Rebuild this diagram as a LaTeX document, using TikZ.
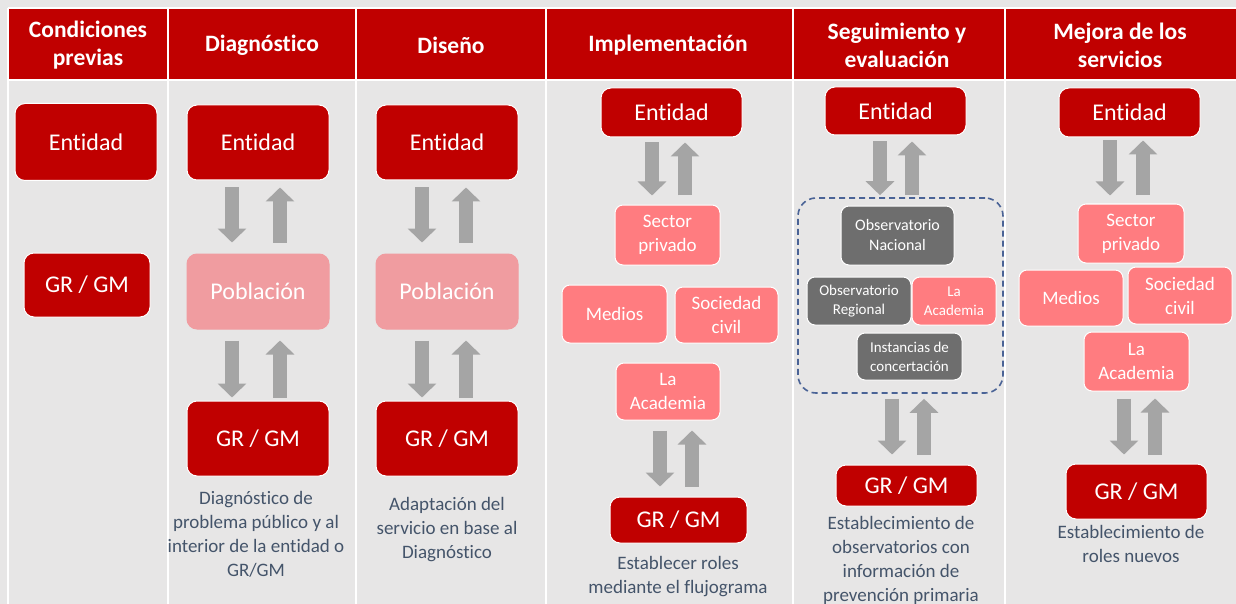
\documentclass[tikz,border=0pt]{standalone}
\usepackage{fontspec}
\setmainfont{Carlito}[Ligatures={NoCommon}]
\usetikzlibrary{arrows.meta}
\definecolor{hdr}{HTML}{C00000}
\definecolor{bgc}{HTML}{E7E6E6}
\definecolor{pob}{HTML}{F09CA0}
\definecolor{pinkb}{HTML}{FF7C80}
\definecolor{darkb}{HTML}{6E6E6E}
\definecolor{arr}{HTML}{A5A5A5}
\definecolor{txt}{HTML}{44546A}
\definecolor{dash}{HTML}{4A6396}
\tikzset{
  hdrtext/.style={text=white,align=center,font=\bfseries\fontsize{23.5}{28}\selectfont},
  basebox/.style={draw=white,line width=1pt,inner sep=0pt,align=center,text=white},
  redbox/.style={basebox,fill=hdr,rounded corners=10pt,font=\fontsize{24}{28}\selectfont},
  pobbox/.style={basebox,fill=pob,draw=pob,rounded corners=10pt,font=\fontsize{24}{28}\selectfont},
  pinkbox/.style={basebox,fill=pinkb,rounded corners=8pt,font=\fontsize{19}{24}\selectfont},
  darkbox/.style={basebox,fill=darkb,rounded corners=8pt,font=\fontsize{16}{20}\selectfont},
  smallfont/.style={font=\fontsize{15}{19}\selectfont},
  barrow/.style={draw=arr,line width=14pt,line cap=butt,-{Triangle[width=28pt,length=14pt]}},
  desc/.style={text=txt,align=center,font=\fontsize{19}{24}\selectfont},
  sep/.style={draw=white,line width=1.5pt},
  dashbox/.style={draw=dash,dash pattern=on 6pt off 4pt,line width=1.6pt,rounded corners=18pt,inner sep=0pt}
}
\begin{document}
\begin{tikzpicture}[x=1pt,y=-1pt]
\fill[bgc] (0,0) rectangle (1236,604);
\useasboundingbox (0,0) rectangle (1236,604);
% header
\fill[hdr] (8,8) rectangle (1236,80);
\foreach \xx in {8,168,356,546,793,1005}{\draw[sep] (\xx,8) -- (\xx,604);}
\draw[sep] (8,8) -- (1236,8);
\draw[sep] (8,80) -- (1236,80);
\node[hdrtext] (h1) at (88,45) {Condiciones\\previas};
\node[hdrtext] (h2) at (262,45) {Diagnóstico};
\node[hdrtext] (h3) at (451,45) {Diseño};
\node[hdrtext] (h4) at (668,45) {Implementación};
\node[hdrtext] (h5) at (897,45) {Seguimiento y\\evaluación};
\node[hdrtext] (h6) at (1120,45) {Mejora de los\\servicios};
% column 1
\node[redbox,minimum width=142pt,minimum height=77pt] (ent1) at (86,142) {Entidad};
\node[redbox,minimum width=126pt,minimum height=64pt] (gr1) at (87,285) {GR / GM};
% column 2
\node[redbox,minimum width=142pt,minimum height=75pt] (ent2) at (258,142.5) {Entidad};
\node[pobbox,minimum width=142pt,minimum height=75pt] (pob2) at (258,291.5) {Población};
\node[redbox,minimum width=142pt,minimum height=75pt] (gr2) at (258,438.5) {GR / GM};
\draw[barrow] ([xshift=-26pt,yshift=-7pt]ent2.south) -- ([xshift=-26pt,yshift=11pt]pob2.north);
\draw[barrow] ([xshift=22pt,yshift=11pt]pob2.north) -- ([xshift=22pt,yshift=-7pt]ent2.south);
\draw[barrow] ([xshift=-26pt,yshift=-11pt]pob2.south) -- ([xshift=-26pt,yshift=3pt]gr2.north);
\draw[barrow] ([xshift=22pt,yshift=3pt]gr2.north) -- ([xshift=22pt,yshift=-11pt]pob2.south);
\node[desc] (d2) at (256,534) {Diagnóstico de\\problema público y al\\interior de la entidad o\\GR/GM};
% column 3
\node[redbox,minimum width=142pt,minimum height=75pt] (ent3) at (447,142.5) {Entidad};
\node[pobbox,minimum width=142pt,minimum height=75pt] (pob3) at (447,291.5) {Población};
\node[redbox,minimum width=142pt,minimum height=75pt] (gr3) at (447,438.5) {GR / GM};
\draw[barrow] ([xshift=-25pt,yshift=-7pt]ent3.south) -- ([xshift=-25pt,yshift=11pt]pob3.north);
\draw[barrow] ([xshift=19pt,yshift=11pt]pob3.north) -- ([xshift=19pt,yshift=-7pt]ent3.south);
\draw[barrow] ([xshift=-25pt,yshift=-11pt]pob3.south) -- ([xshift=-25pt,yshift=3pt]gr3.north);
\draw[barrow] ([xshift=19pt,yshift=3pt]gr3.north) -- ([xshift=19pt,yshift=-11pt]pob3.south);
\node[desc] (d3) at (447,530) {Adaptación del\\servicio en base al\\Diagnóstico};
% column 4
\node[redbox,minimum width=141pt,minimum height=49pt] (ent4) at (671.5,112.5) {Entidad};
\node[pinkbox,minimum width=105pt,minimum height=60pt] (sp4) at (667.5,235) {Sector\\privado};
\node[pinkbox,minimum width=105pt,minimum height=58pt] (med4) at (614.5,314) {Medios};
\node[pinkbox,minimum width=103pt,minimum height=56pt] (soc4) at (726.5,315) {Sociedad\\civil};
\node[pinkbox,minimum width=104pt,minimum height=57pt] (ac4) at (668,391.5) {La\\Academia};
\node[redbox,minimum width=137pt,minimum height=46pt] (gr4) at (678.5,520) {GR / GM};
\draw[barrow] ([xshift=-19.5pt,yshift=-5pt]ent4.south) -- ([xshift=-15.5pt,yshift=9pt]sp4.north);
\draw[barrow] ([xshift=17.5pt,yshift=9pt]sp4.north) -- ([xshift=13.5pt,yshift=-5pt]ent4.south);
\draw[barrow] ([xshift=-8pt,yshift=-10pt]ac4.south) -- ([xshift=-18.5pt,yshift=10pt]gr4.north);
\draw[barrow] ([xshift=13.5pt,yshift=10pt]gr4.north) -- ([xshift=24pt,yshift=-10pt]ac4.south);
\node[desc] (d4) at (678,576.5) {Establecer roles\\mediante el flujograma};
% column 5
\node[redbox,minimum width=141pt,minimum height=48pt] (ent5) at (895.5,111) {Entidad};
\node[dashbox,minimum width=205pt,minimum height=195pt] (obs5) at (900.5,295.5) {};
\node[darkbox,minimum width=113pt,minimum height=59pt] (on5) at (897.5,235.5) {Observatorio\\Nacional};
\node[darkbox,smallfont,minimum width=104pt,minimum height=48pt] (or5) at (859,301) {Observatorio\\Regional};
\node[pinkbox,smallfont,minimum width=84pt,minimum height=48pt] (ac5) at (954,301) {La\\Academia};
\node[darkbox,smallfont,minimum width=105pt,minimum height=47pt] (ic5) at (909.5,356.5) {Instancias de\\concertación};
\node[redbox,minimum width=141pt,minimum height=41pt] (gr5) at (906.5,485.5) {GR / GM};
\draw[barrow] ([xshift=-15.5pt,yshift=-6pt]ent5.south) -- ([xshift=-20.5pt,yshift=2pt]obs5.north);
\draw[barrow] ([xshift=11.5pt,yshift=2pt]obs5.north) -- ([xshift=16.5pt,yshift=-6pt]ent5.south);
\draw[barrow] ([xshift=-8.5pt,yshift=-5pt]obs5.south) -- ([xshift=-14.5pt,yshift=10pt]gr5.north);
\draw[barrow] ([xshift=17.5pt,yshift=10pt]gr5.north) -- ([xshift=23.5pt,yshift=-5pt]obs5.south);
\node[desc] (d5) at (901,560) {Establecimiento de\\observatorios con\\información de\\prevención primaria};
% column 6
\node[redbox,minimum width=141pt,minimum height=49pt] (ent6) at (1129.5,112.5) {Entidad};
\node[pinkbox,minimum width=106pt,minimum height=59pt] (sp6) at (1131,233.5) {Sector\\privado};
\node[pinkbox,minimum width=104pt,minimum height=56pt] (med6) at (1071,298) {Medios};
\node[pinkbox,minimum width=104pt,minimum height=57pt] (soc6) at (1180,295.5) {Sociedad\\civil};
\node[pinkbox,minimum width=105pt,minimum height=59pt] (ac6) at (1136.5,361.5) {La\\Academia};
\node[redbox,minimum width=141pt,minimum height=55pt] (gr6) at (1136.5,491.5) {GR / GM};
\draw[barrow] ([xshift=-19.5pt,yshift=-3pt]ent6.south) -- ([xshift=-21pt,yshift=8pt]sp6.north);
\draw[barrow] ([xshift=12pt,yshift=8pt]sp6.north) -- ([xshift=13.5pt,yshift=-3pt]ent6.south);
\draw[barrow] ([xshift=-12.5pt,yshift=-7pt]ac6.south) -- ([xshift=-12.5pt,yshift=9pt]gr6.north);
\draw[barrow] ([xshift=18.5pt,yshift=9pt]gr6.north) -- ([xshift=18.5pt,yshift=-7pt]ac6.south);
\node[desc] (d6) at (1131,544) {Establecimiento de\\roles nuevos};
\end{tikzpicture}
\end{document}
